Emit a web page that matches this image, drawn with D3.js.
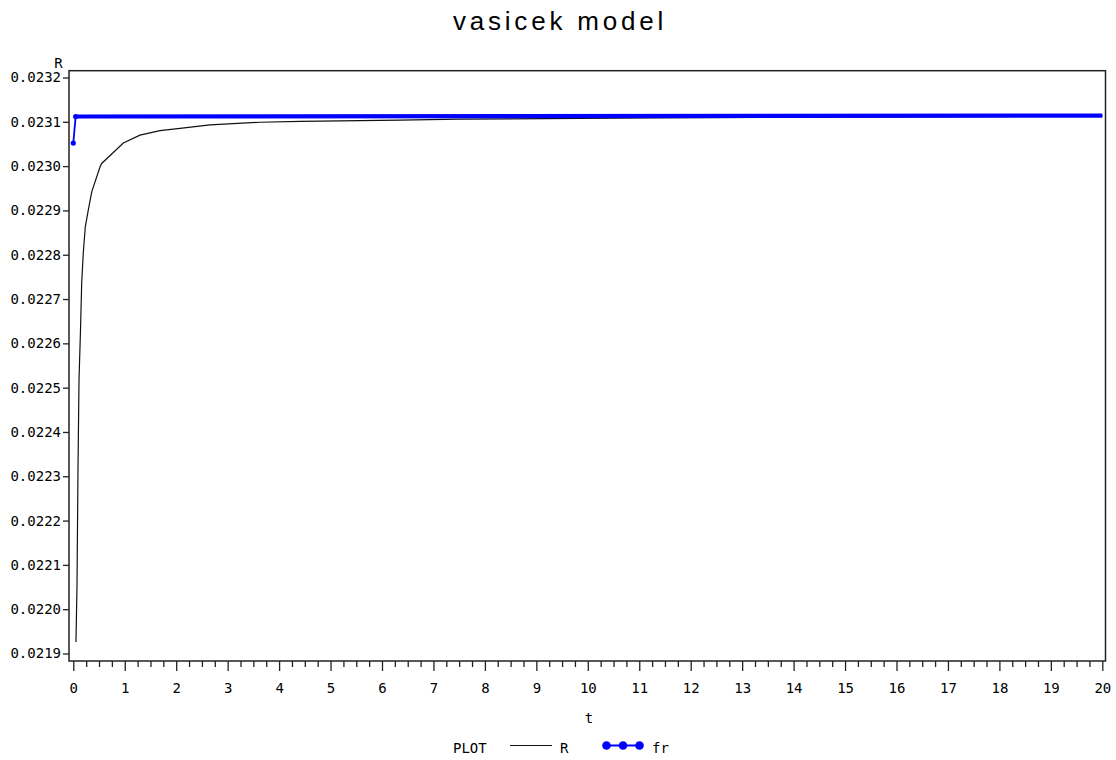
<!DOCTYPE html>
<html lang="en">
<head>
<meta charset="UTF-8">
<title>vasicek model</title>
<style>
  body { margin: 0; background: #fff; }
  svg text { font-family: 'DejaVu Sans Mono', monospace; fill: #000; }
  .title { font-family: 'Liberation Sans', Arial, sans-serif; }
</style>
<script src="https://cdn.jsdelivr.net/npm/d3@7"></script>
</head>
<body>
<div id="chart"></div>
<script>
// R curve (maturity t, yield)
const rT = [0.052, 0.072, 0.091, 0.111, 0.140, 0.163, 0.194, 0.233, 0.292, 0.358, 0.519, 0.552,
            0.972, 1.296, 1.685, 2.074, 2.657, 3.629, 4.406, 6.35, 7.497, 11.23, 20];
const rV = [0.021926, 0.022055, 0.022314, 0.022518, 0.022630, 0.022736, 0.022804, 0.022863,
            0.022901, 0.022942, 0.022998, 0.023006, 0.023052, 0.023070, 0.023080, 0.023085,
            0.023093, 0.023099, 0.023101, 0.023104, 0.023106, 0.023109, 0.023113];

// fr forward rate
const frT = [0, 0.046, 20];
const frV = [0.023052, 0.023112, 0.023114];

const xTicks = [0,1,2,3,4,5,6,7,8,9,10,11,12,13,14,15,16,17,18,19,20];
const yTicks = [0.0219,0.0220,0.0221,0.0222,0.0223,0.0224,0.0225,0.0226,0.0227,0.0228,0.0229,0.0230,0.0231,0.0232];

const width = 1116, height = 760;
const frame = {left: 69, right: 1105.5, top: 70.7, bottom: 661};

const svg = d3.select("#chart").append("svg")
    .attr("width", width)
    .attr("height", height);

const x = d3.scaleLinear().domain([0, 20]).range([73.3, 1102.3]);
const y = d3.scaleLinear().domain([0.0219, 0.0232]).range([653.5, 77.5]);

// title
svg.append("text")
    .attr("class", "title")
    .attr("x", 560).attr("y", 29.5)
    .attr("text-anchor", "middle")
    .attr("font-size", 26)
    .attr("letter-spacing", 3.8)
    .text("vasicek model");

// frame
svg.append("rect")
    .attr("x", frame.left).attr("y", frame.top)
    .attr("width", frame.right - frame.left)
    .attr("height", frame.bottom - frame.top)
    .attr("fill", "none")
    .attr("stroke", "#222")
    .attr("stroke-width", 1.5);

// y axis
const yAxis = svg.append("g")
    .attr("transform", `translate(${frame.left},0)`)
    .call(d3.axisLeft(y).tickValues(yTicks).tickSize(6).tickPadding(2).tickFormat(d3.format(".4f")));
yAxis.select(".domain").remove();
yAxis.selectAll("line").attr("stroke", "#222").attr("stroke-width", 1.3);
yAxis.selectAll("text").attr("font-size", 14).attr("font-family", "'DejaVu Sans Mono', monospace");

// x axis, minor ticks every 0.25
const minor = [];
xTicks.slice(0, -1).forEach(v => [0.25, 0.5, 0.75].forEach(f => minor.push(v + f)));
const xMinor = svg.append("g")
    .attr("transform", `translate(0,${frame.bottom})`)
    .call(d3.axisBottom(x).tickValues(minor).tickSize(6).tickFormat(""));
xMinor.select(".domain").remove();
xMinor.selectAll("line").attr("stroke", "#222").attr("stroke-width", 1.3);

const xAxis = svg.append("g")
    .attr("transform", `translate(0,${frame.bottom})`)
    .call(d3.axisBottom(x).tickValues(xTicks).tickSize(10).tickPadding(12).tickFormat(d3.format("d")));
xAxis.select(".domain").remove();
xAxis.selectAll("line").attr("stroke", "#222").attr("stroke-width", 1.3);
xAxis.selectAll("text").attr("font-size", 14).attr("font-family", "'DejaVu Sans Mono', monospace");

// axis labels
svg.append("text").attr("x", 58.5).attr("y", 68).attr("text-anchor", "middle")
    .attr("font-size", 14).text("R");
svg.append("text").attr("x", 589).attr("y", 723).attr("text-anchor", "middle")
    .attr("font-size", 14).text("t");

const line = d3.line().x(d => x(d[0])).y(d => y(d[1]));

// R series
const rData = rT.map((t, i) => [t, rV[i]]);
svg.append("path")
    .datum(rData)
    .attr("d", line)
    .attr("fill", "none")
    .attr("stroke", "#111")
    .attr("stroke-width", 1.2);

// fr series: markers overlap into a thick band on the plateau
const frData = frT.map((t, i) => [t, frV[i]]);
svg.append("path")
    .datum(frData)
    .attr("d", line)
    .attr("fill", "none")
    .attr("stroke", "#0000ff")
    .attr("stroke-width", 1.8);
svg.append("path")
    .datum(frData.slice(1))
    .attr("d", line)
    .attr("fill", "none")
    .attr("stroke", "#0000ff")
    .attr("stroke-width", 4.2);
svg.selectAll(".frdot")
    .data(frData.slice(0, 2))
    .enter().append("circle")
    .attr("cx", d => x(d[0]))
    .attr("cy", d => y(d[1]))
    .attr("r", 2.6)
    .attr("fill", "#0000ff");

// legend
const lg = svg.append("g");
lg.append("text").attr("x", 453).attr("y", 753).attr("font-size", 14).text("PLOT");
lg.append("line").attr("x1", 510).attr("x2", 552).attr("y1", 745.5).attr("y2", 745.5)
    .attr("stroke", "#111").attr("stroke-width", 1.2);
lg.append("text").attr("x", 560).attr("y", 753).attr("font-size", 14).text("R");
lg.append("line").attr("x1", 606.5).attr("x2", 639.5).attr("y1", 745.5).attr("y2", 745.5)
    .attr("stroke", "#0000ff").attr("stroke-width", 2);
lg.selectAll(".ldot")
    .data([606.5, 623, 639.5])
    .enter().append("circle")
    .attr("cx", d => d).attr("cy", 745.5).attr("r", 4.3)
    .attr("fill", "#0000ff");
lg.append("text").attr("x", 652).attr("y", 753).attr("font-size", 14).text("fr");
</script>
</body>
</html>
